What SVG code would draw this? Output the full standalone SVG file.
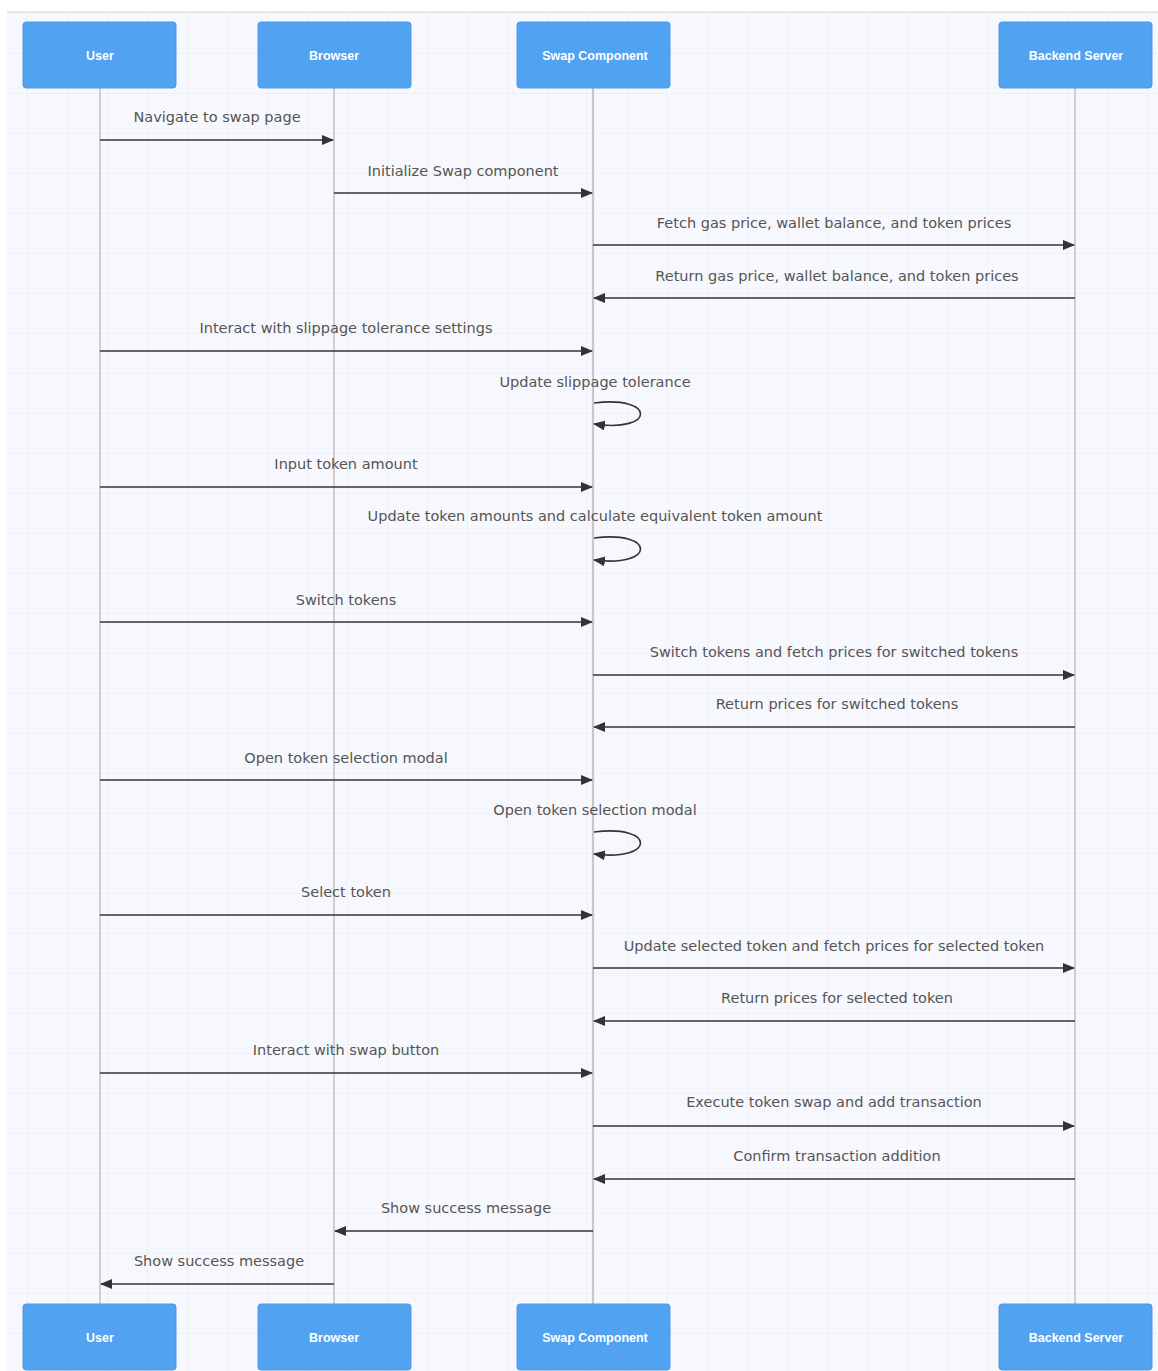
<svg xmlns="http://www.w3.org/2000/svg" width="1158" height="1371" viewBox="0 0 1158 1371">
<style>
.actor rect{fill:#52a2f2;stroke:#4a98e8;stroke-width:1}
.actor text{fill:#ffffff;font-family:"Liberation Sans",Arial,sans-serif;font-size:12.5px;font-weight:bold;text-anchor:middle}
.life{stroke:#b4b4b4;stroke-width:1.2;fill:none}
.msg{stroke:#333;stroke-width:1.6;fill:none}
.lbl{fill:#555;font-family:"DejaVu Sans",sans-serif;font-size:14.5px;text-anchor:middle}
</style>
<defs>
<pattern id="grid" x="27" y="13" width="40" height="40" patternUnits="userSpaceOnUse">
<path d="M0 0V40M0 0H40" stroke="#eceef9" stroke-width="1.5" fill="none"/>
</pattern>
<marker id="ah" viewBox="0 0 12 10" refX="11" refY="5" markerWidth="12" markerHeight="10" markerUnits="userSpaceOnUse" orient="auto">
<path d="M0 0L12 5L0 10z" fill="#333"/>
</marker>
</defs>
<rect x="0" y="0" width="1158" height="1371" fill="#ffffff"/>
<rect x="7" y="12" width="1151" height="1359" fill="#f7f8fd"/>
<rect x="7" y="12" width="1151" height="1359" fill="url(#grid)"/>
<line x1="7" y1="12" x2="1158" y2="12" stroke="#e2e2da" stroke-width="1.5"/>
<g id="lifelines">
<line class="life" x1="100" y1="88" x2="100" y2="1304"/>
<line class="life" x1="334" y1="88" x2="334" y2="1304"/>
<line class="life" x1="593" y1="88" x2="593" y2="1304" style="stroke-width:2.2;stroke:#c8c8c8"/>
<line class="life" x1="1075" y1="88" x2="1075" y2="1304"/>
</g>
<g id="actor-user-top" class="actor"><rect x="23" y="22" width="153" height="66" rx="3"/><text x="100" y="60">User</text></g>
<g id="actor-browser-top" class="actor"><rect x="258" y="22" width="153" height="66" rx="3"/><text x="334" y="60">Browser</text></g>
<g id="actor-swap-top" class="actor"><rect x="517" y="22" width="153" height="66" rx="3"/><text x="595" y="60">Swap Component</text></g>
<g id="actor-backend-top" class="actor"><rect x="999" y="22" width="153" height="66" rx="3"/><text x="1076" y="60">Backend Server</text></g>
<g id="actor-user-bottom" class="actor"><rect x="23" y="1304" width="153" height="66" rx="3"/><text x="100" y="1342">User</text></g>
<g id="actor-browser-bottom" class="actor"><rect x="258" y="1304" width="153" height="66" rx="3"/><text x="334" y="1342">Browser</text></g>
<g id="actor-swap-bottom" class="actor"><rect x="517" y="1304" width="153" height="66" rx="3"/><text x="595" y="1342">Swap Component</text></g>
<g id="actor-backend-bottom" class="actor"><rect x="999" y="1304" width="153" height="66" rx="3"/><text x="1076" y="1342">Backend Server</text></g>
<g id="connectors">
<line class="msg" x1="100" y1="140" x2="333" y2="140" marker-end="url(#ah)"/>
<line class="msg" x1="334" y1="193" x2="592" y2="193" marker-end="url(#ah)"/>
<line class="msg" x1="593" y1="245" x2="1074" y2="245" marker-end="url(#ah)"/>
<line class="msg" x1="1075" y1="298" x2="594" y2="298" marker-end="url(#ah)"/>
<line class="msg" x1="100" y1="351" x2="592" y2="351" marker-end="url(#ah)"/>
<path class="msg" d="M594 403C656 395 656 433 594 424" marker-end="url(#ah)"/>
<line class="msg" x1="100" y1="487" x2="592" y2="487" marker-end="url(#ah)"/>
<path class="msg" d="M594 538C656 530 656 568 594 560" marker-end="url(#ah)"/>
<line class="msg" x1="100" y1="622" x2="592" y2="622" marker-end="url(#ah)"/>
<line class="msg" x1="593" y1="675" x2="1074" y2="675" marker-end="url(#ah)"/>
<line class="msg" x1="1075" y1="727" x2="594" y2="727" marker-end="url(#ah)"/>
<line class="msg" x1="100" y1="780" x2="592" y2="780" marker-end="url(#ah)"/>
<path class="msg" d="M594 832C656 824 656 862 594 854" marker-end="url(#ah)"/>
<line class="msg" x1="100" y1="915" x2="592" y2="915" marker-end="url(#ah)"/>
<line class="msg" x1="593" y1="968" x2="1074" y2="968" marker-end="url(#ah)"/>
<line class="msg" x1="1075" y1="1021" x2="594" y2="1021" marker-end="url(#ah)"/>
<line class="msg" x1="100" y1="1073" x2="592" y2="1073" marker-end="url(#ah)"/>
<line class="msg" x1="593" y1="1126" x2="1074" y2="1126" marker-end="url(#ah)"/>
<line class="msg" x1="1075" y1="1179" x2="594" y2="1179" marker-end="url(#ah)"/>
<line class="msg" x1="593" y1="1231" x2="335" y2="1231" marker-end="url(#ah)"/>
<line class="msg" x1="334" y1="1284" x2="101" y2="1284" marker-end="url(#ah)"/>
</g>
<g id="labels">
<text class="lbl" x="217" y="122">Navigate to swap page</text>
<text class="lbl" x="463" y="176">Initialize Swap component</text>
<text class="lbl" x="834" y="228">Fetch gas price, wallet balance, and token prices</text>
<text class="lbl" x="837" y="281">Return gas price, wallet balance, and token prices</text>
<text class="lbl" x="346" y="333">Interact with slippage tolerance settings</text>
<text class="lbl" x="595" y="387">Update slippage tolerance</text>
<text class="lbl" x="346" y="469">Input token amount</text>
<text class="lbl" x="595" y="521">Update token amounts and calculate equivalent token amount</text>
<text class="lbl" x="346" y="605">Switch tokens</text>
<text class="lbl" x="834" y="657">Switch tokens and fetch prices for switched tokens</text>
<text class="lbl" x="837" y="709">Return prices for switched tokens</text>
<text class="lbl" x="346" y="763">Open token selection modal</text>
<text class="lbl" x="595" y="815">Open token selection modal</text>
<text class="lbl" x="346" y="897">Select token</text>
<text class="lbl" x="834" y="951">Update selected token and fetch prices for selected token</text>
<text class="lbl" x="837" y="1003">Return prices for selected token</text>
<text class="lbl" x="346" y="1055">Interact with swap button</text>
<text class="lbl" x="834" y="1107">Execute token swap and add transaction</text>
<text class="lbl" x="837" y="1161">Confirm transaction addition</text>
<text class="lbl" x="466" y="1213">Show success message</text>
<text class="lbl" x="219" y="1266">Show success message</text>
</g>
</svg>
